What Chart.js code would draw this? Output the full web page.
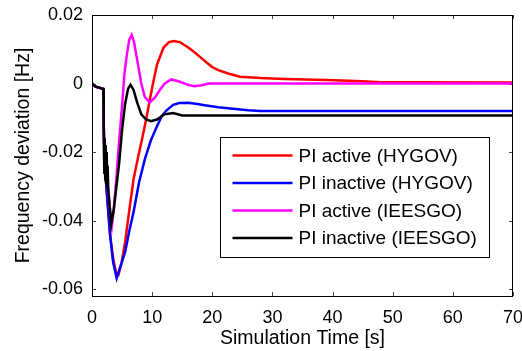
<!DOCTYPE html>
<html>
<head>
<meta charset="utf-8">
<script src="https://cdn.jsdelivr.net/npm/chart.js@4/dist/chart.umd.min.js"></script>
<style>
  html, body { margin: 0; padding: 0; background: #fff; }
  canvas { display: block; }
</style>
</head>
<body>
<canvas id="freq" width="522" height="351"></canvas>
<script>
// values (time in s, deviation in Hz)
var xTicks = [0, 10, 20, 30, 40, 50, 60, 70];
var yTicks = [-0.06, -0.04, -0.02, 0, 0.02];
var yTickLabels = ['-0.06', '-0.04', '-0.02', '0', '0.02'];

var seriesNames = ['PI active (HYGOV)', 'PI inactive (HYGOV)', 'PI active (IEESGO)', 'PI inactive (IEESGO)'];
var seriesColors = ['#ff0000', '#0000ff', '#ff00ff', '#000000'];

var activeHygovTime = [0, 0.6, 1.9, 1.95, 2.1, 2.3, 2.6, 3.0, 3.5, 4.0, 4.4, 4.9, 5.5, 6.2, 6.9, 7.6, 8.3, 9.0, 9.6, 10.2, 10.8, 11.9, 12.8, 13.6, 14.6, 16.0, 17.0, 18.0, 19.0, 20.0, 21.0, 22.5, 24.6, 28.0, 32.0, 39.0, 45.0, 48.0, 55.0, 70];
var activeHygov = [0, -0.0009, -0.0016, -0.012, -0.022, -0.028, -0.035, -0.044, -0.051, -0.0552, -0.0558, -0.0525, -0.0463, -0.037, -0.028, -0.022, -0.0164, -0.0105, -0.0048, 0.0005, 0.0055, 0.0105, 0.0121, 0.0124, 0.0121, 0.0105, 0.0092, 0.0077, 0.0062, 0.0048, 0.0039, 0.003, 0.002, 0.0016, 0.0013, 0.001, 0.0007, 0.0004, 0.0004, 0.0003];

var inactiveHygovTime = [0, 0.6, 1.9, 1.95, 2.1, 2.3, 2.6, 3.0, 3.5, 4.1, 4.8, 5.5, 6.2, 6.9, 7.8, 8.8, 9.8, 10.8, 11.6, 12.4, 13.5, 14.5, 16.0, 17.5, 19.0, 21.0, 23.0, 26.0, 28.0, 70];
var inactiveHygov = [0, -0.0009, -0.0016, -0.012, -0.022, -0.028, -0.035, -0.044, -0.052, -0.0568, -0.053, -0.0492, -0.043, -0.0376, -0.029, -0.022, -0.0165, -0.0125, -0.0095, -0.0078, -0.0062, -0.0057, -0.0056, -0.006, -0.0064, -0.0069, -0.0073, -0.0078, -0.008, -0.008];

var activeIeesgoTime = [0, 0.6, 1.9, 1.95, 2.05, 2.15, 2.3, 2.45, 2.6, 2.8, 3.0, 3.3, 3.6, 4.0, 4.5, 5.0, 5.4, 5.8, 6.2, 6.6, 7.0, 7.7, 8.2, 8.8, 9.6, 10.5, 11.3, 12.1, 13.2, 14.5, 16.0, 17.0, 18.2, 19.5, 70];
var activeIeesgo = [0, -0.0009, -0.0016, -0.014, -0.024, -0.018, -0.027, -0.022, -0.029, -0.033, -0.037, -0.0415, -0.037, -0.029, -0.017, -0.0065, 0.003, 0.0085, 0.0128, 0.0142, 0.012, 0.005, 0.0, -0.004, -0.0055, -0.004, -0.0018, 0.0, 0.0012, 0.0006, -0.0004, -0.0008, -0.0005, 0.0, 0.0];

var inactiveIeesgoTime = [0, 0.6, 1.9, 1.95, 2.05, 2.12, 2.2, 2.28, 2.36, 2.44, 2.52, 2.6, 2.7, 2.85, 3.0, 3.2, 3.6, 4.0, 4.5, 5.0, 5.5, 6.0, 6.4, 6.9, 7.5, 8.2, 9.0, 9.8, 10.8, 12.0, 13.5, 15.0, 70];
var inactiveIeesgo = [0, -0.0009, -0.0016, -0.014, -0.026, -0.016, -0.028, -0.018, -0.029, -0.02, -0.03, -0.024, -0.031, -0.034, -0.037, -0.041, -0.037, -0.031, -0.0235, -0.0135, -0.006, -0.0015, -0.0004, -0.0018, -0.0055, -0.009, -0.0105, -0.011, -0.0105, -0.009, -0.0086, -0.0093, -0.0093];

var FONT = "'Liberation Sans', Arial, sans-serif";

function points(times, values) {
    return times.map(function(t, i) { return {x: t, y: values[i]}; });
}

var allSeries = [
    points(activeHygovTime, activeHygov),
    points(inactiveHygovTime, inactiveHygov),
    points(activeIeesgoTime, activeIeesgo),
    points(inactiveIeesgoTime, inactiveIeesgo)
];

/**
* MATLAB style frame: box round the plot, ticks pointing inwards,
* legend box in the lower right of the plot area.
*/
var matlabFrame = {
    id: 'matlabFrame',
    beforeDatasetsDraw: function(chart) {
        var ctx = chart.ctx, a = chart.chartArea;
        var xs = chart.scales.x, ys = chart.scales.y;
        ctx.save();
        ctx.strokeStyle = '#444';
        ctx.lineWidth = 1;
        ctx.beginPath();
        xTicks.forEach(function(v) {
            var px = Math.round(xs.getPixelForValue(v)) + 0.5;
            ctx.moveTo(px, a.bottom); ctx.lineTo(px, a.bottom - 4);
            ctx.moveTo(px, a.top); ctx.lineTo(px, a.top + 4);
        });
        yTicks.forEach(function(v) {
            var py = Math.round(ys.getPixelForValue(v)) + 0.5;
            ctx.moveTo(a.left, py); ctx.lineTo(a.left + 4, py);
            ctx.moveTo(a.right, py); ctx.lineTo(a.right - 4, py);
        });
        ctx.stroke();
        ctx.restore();
    },
    afterDatasetsDraw: function(chart) {
        var ctx = chart.ctx, a = chart.chartArea;
        ctx.save();
        ctx.strokeStyle = '#000';
        ctx.lineWidth = 1;
        ctx.strokeRect(Math.round(a.left) + 0.5, Math.round(a.top) + 0.5,
                       Math.round(a.right - a.left) - 1, Math.round(a.bottom - a.top));

        // legend
        var bx = Math.round(a.left + 128) + 0.5, by = Math.round(a.top + 122) + 0.5;
        var bw = 269, bh = 120;
        ctx.fillStyle = '#fff';
        ctx.fillRect(bx, by, bw, bh);
        ctx.strokeRect(bx, by, bw, bh);
        ctx.font = '19px ' + FONT;
        ctx.textBaseline = 'middle';
        ctx.textAlign = 'left';
        chart.data.datasets.forEach(function(ds, i) {
            var ry = by + 18 + i * 27.5;
            ctx.strokeStyle = ds.borderColor;
            ctx.lineWidth = 2.5;
            ctx.beginPath();
            ctx.moveTo(bx + 12, ry);
            ctx.lineTo(bx + 72, ry);
            ctx.stroke();
            ctx.fillStyle = '#000';
            ctx.fillText(ds.label, bx + 78, ry + 1);
        });
        ctx.restore();
    }
};

var datasets = allSeries.map(function(pts, i) {
    return {
        label: seriesNames[i],
        data: pts,
        borderColor: seriesColors[i],
        backgroundColor: seriesColors[i],
        borderWidth: 2.5,
        pointRadius: 0,
        tension: 0,
        fill: false,
        order: 4 - i
    };
});

new Chart(document.getElementById('freq').getContext('2d'), {
    type: 'line',
    data: { datasets: datasets },
    options: {
        responsive: false,
        animation: false,
        events: [],
        layout: { padding: { top: 15, right: 9, left: 0, bottom: 0 } },
        plugins: { legend: { display: false }, tooltip: { enabled: false } },
        scales: {
            x: {
                type: 'linear',
                min: 0,
                max: 70,
                grid: { display: false, drawTicks: false },
                border: { display: false },
                afterBuildTicks: function(scale) {
                    scale.ticks = xTicks.map(function(v) { return {value: v}; });
                },
                afterFit: function(scale) {
                    scale.height = 55;
                    scale.paddingLeft = 0; scale.paddingRight = 0;
                },
                ticks: {
                    padding: 11,
                    maxRotation: 0,
                    autoSkip: false,
                    color: '#000',
                    font: { family: FONT, size: 18 }
                },
                title: {
                    display: true,
                    text: 'Simulation Time [s]',
                    color: '#000',
                    padding: { top: 0, bottom: 1 },
                    font: { family: FONT, size: 19.5 }
                }
            },
            y: {
                type: 'linear',
                min: -0.062,
                max: 0.02,
                grid: { display: false, drawTicks: false },
                border: { display: false },
                afterBuildTicks: function(scale) {
                    scale.ticks = yTicks.map(function(v) { return {value: v}; });
                },
                afterFit: function(scale) {
                    scale.width = 92;
                    scale.paddingTop = 0; scale.paddingBottom = 0;
                },
                ticks: {
                    padding: 9,
                    autoSkip: false,
                    color: '#000',
                    font: { family: FONT, size: 18 },
                    callback: function(value) {
                        var i = yTicks.indexOf(value);
                        return i >= 0 ? yTickLabels[i] : '';
                    }
                },
                title: {
                    display: true,
                    text: 'Frequency deviation [Hz]',
                    color: '#000',
                    padding: { top: 12, bottom: 0 },
                    font: { family: FONT, size: 19.5 }
                }
            }
        }
    },
    plugins: [matlabFrame]
});
</script>
</body>
</html>
